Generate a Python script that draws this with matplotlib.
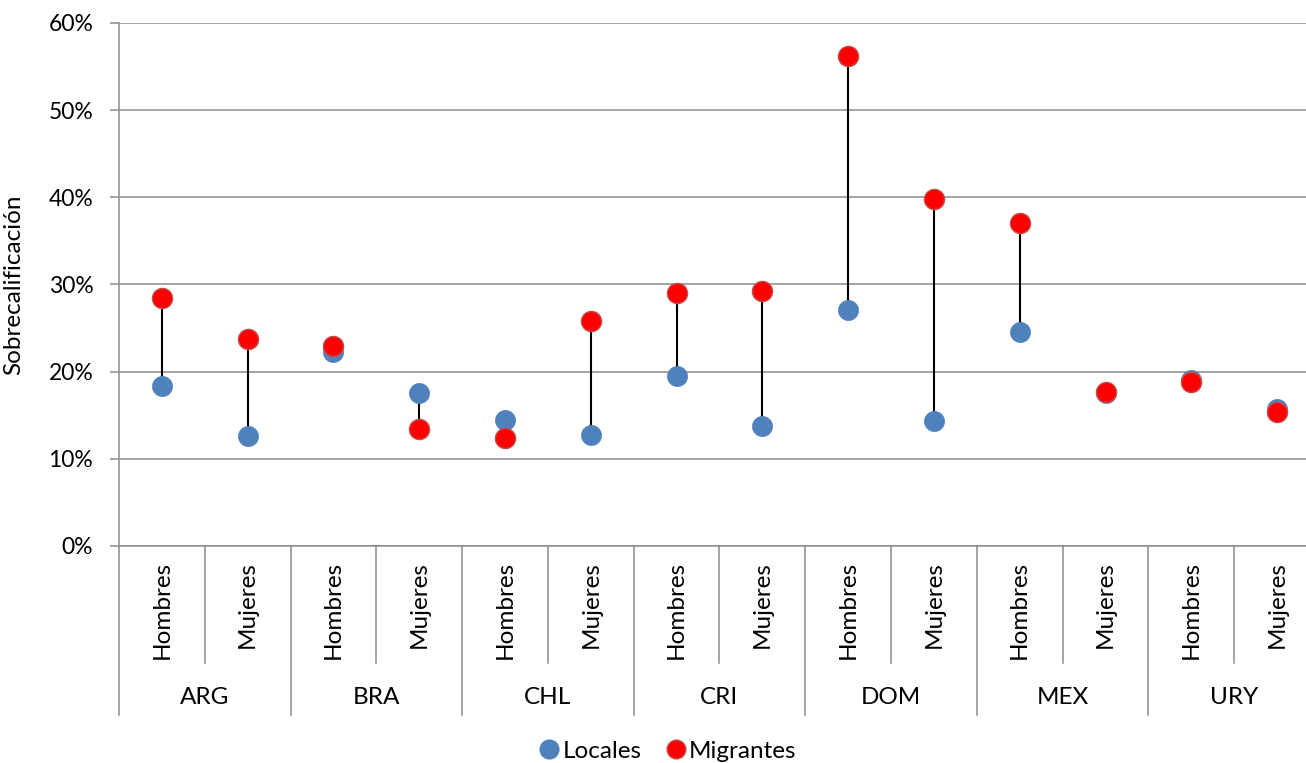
import matplotlib
matplotlib.use("Agg")
import matplotlib.pyplot as plt
import matplotlib.transforms as mtransforms
from matplotlib.lines import Line2D
from matplotlib.ticker import FuncFormatter

countries = ["ARG", "BRA", "CHL", "CRI", "DOM", "MEX", "URY"]
sexes = ["Hombres", "Mujeres"]
locales = [18.4, 12.6, 22.3, 17.5, 14.5, 12.7, 19.5, 13.8, 27.1, 14.3, 24.5, 17.5, 19.0, 15.7]
migrantes = [28.4, 23.7, 23.0, 13.4, 12.4, 25.8, 29.0, 29.2, 56.2, 39.8, 37.1, 17.7, 18.8, 15.4]
yticks = [0, 10, 20, 30, 40, 50, 60]

plt.rcParams['font.family'] = ['Lato', 'DejaVu Sans']
FS = 17.5
FS_TICK = 16.5
GRAY = '#8c8c8c'
BLUE = '#4F81BD'
RED = '#FF0000'
RED_EDGE = '#C0504D'

W, H = 1306, 763
fig = plt.figure(figsize=(W / 100, H / 100), dpi=100)
left, right, top, bottom = 119, 1320, 23, 546
ax = fig.add_axes([left / W, (H - bottom) / H, (right - left) / W, (bottom - top) / H])

n = len(countries) * len(sexes)
xs = list(range(n))

ax.vlines(xs, locales, migrantes, color='black', lw=1.5, zorder=3)
ax.scatter(xs, locales, s=14.5 ** 2, color=BLUE, edgecolor=BLUE, linewidth=0.5, zorder=4)
ax.scatter(xs, migrantes, s=14.5 ** 2, color=RED, edgecolor=RED_EDGE, linewidth=1.0, zorder=5)

ax.set_xlim(-0.5, n - 0.5)
ax.set_ylim(0, 60)
ax.set_yticks(yticks)
ax.yaxis.set_major_formatter(FuncFormatter(lambda v, p: f"{int(v)}%"))
ax.grid(axis='y', color=GRAY, lw=1.1)
ax.set_axisbelow(True)
for s in ['top', 'right']:
    ax.spines[s].set_visible(False)
for s in ['left', 'bottom']:
    ax.spines[s].set_color(GRAY)
    ax.spines[s].set_linewidth(1.1)
ax.tick_params(axis='y', length=6.5, width=1.1, color=GRAY, pad=12, labelsize=FS_TICK)
ax.set_xticks([])
ax.set_ylabel("Sobrecalificación", fontsize=FS)
ax.yaxis.set_label_coords(-(119 - 24) / (right - left), 0.5)

trans = mtransforms.blended_transform_factory(ax.transData, ax.transAxes)
ph = bottom - top
def yfrac(py):
    return (bottom - py) / ph

# category labels
for i in range(n):
    ax.text(i, yfrac(561), sexes[i % 2], rotation=90, ha='center', va='top',
            fontsize=FS, transform=trans)
# sub-dividers
for c in range(len(countries)):
    xd = 2 * c + 0.5
    ax.plot([xd, xd], [0, yfrac(663)], color=GRAY, lw=1.1, transform=trans, clip_on=False)
# country dividers
for c in range(len(countries) + 1):
    xd = 2 * c - 0.5
    ax.plot([xd, xd], [0, yfrac(715)], color=GRAY, lw=1.1, transform=trans, clip_on=False)
for c, name in enumerate(countries):
    ax.text(2 * c + 0.5, yfrac(698), name, ha='center', va='center', fontsize=FS, transform=trans)

handles = [
    Line2D([], [], marker='o', ls='none', markersize=13.5, markerfacecolor=BLUE, markeredgecolor=BLUE),
    Line2D([], [], marker='o', ls='none', markersize=13.5, markerfacecolor=RED, markeredgecolor=RED_EDGE),
]
fig.legend(handles, ["Locales", "Migrantes"], loc='center', bbox_to_anchor=(667 / W, (H - 751) / H),
           ncol=2, frameon=False, fontsize=FS, handletextpad=0.05, columnspacing=0.9,
           handlelength=1.0, borderpad=0)

fig.savefig("out.png", dpi=100)
